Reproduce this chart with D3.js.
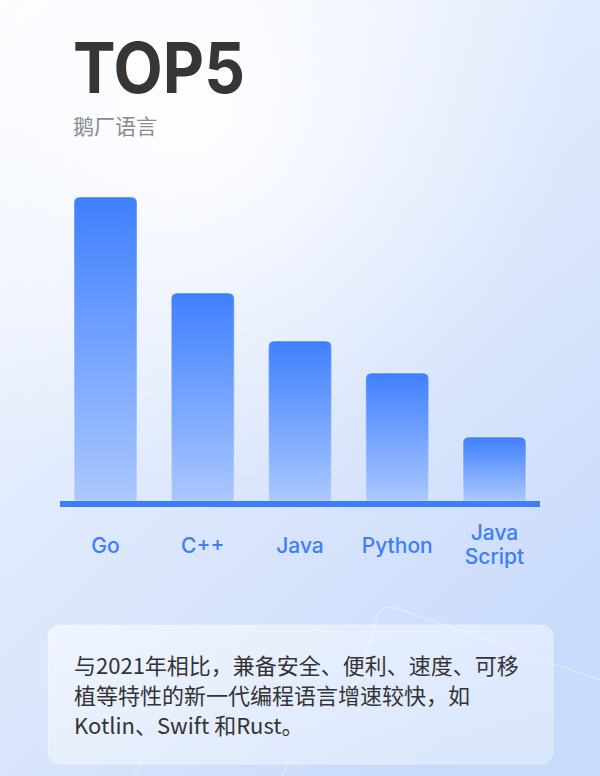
<!DOCTYPE html>
<html>
<head>
<meta charset="utf-8">
<script src="https://cdn.jsdelivr.net/npm/d3@7"></script>
<style>
  html, body { margin: 0; padding: 0; background: #eef3fd; }
  svg { display: block; }
</style>
</head>
<body>
<svg id="chart" width="600" height="776"></svg>
<script>
// Data (relative growth score, no units shown)
const languages = ['Go', 'C++', 'Java', 'Python', 'JavaScript']
const labelLines = [['Go'], ['C++'], ['Java'], ['Python'], ['Java', 'Script']]
const growth = [95, 65, 50, 40, 20]
const title = 'TOP5'
const subtitle = '鹅厂语言'
const noteLines = [
  '与2021年相比，兼备安全、便利、速度、可移',
  '植等特性的新一代编程语言增速较快，如',
  'Kotlin、Swift 和Rust。'
]

const svg = d3.select('#chart')
const width = 600
const height = 776
const plot = {left: 60, right: 540, top: 181, bottom: 501}

const data = languages.map((name, i) => ({name, lines: labelLines[i], value: growth[i]}))

const x = d3.scaleBand()
  .domain(languages)
  .range([plot.left, plot.right])
  .paddingInner(0.352)
  .paddingOuter(0.144)

const y = d3.scaleLinear()
  .domain([0, 100])
  .range([plot.bottom, plot.top])

drawBackground()
drawTitle()
drawBars()
drawAxis()
drawNote()

function drawBackground() {
  const defs = svg.append('defs')

  const bg = defs.append('linearGradient')
    .attr('id', 'bg').attr('x1', 0).attr('y1', 0).attr('x2', 0.7).attr('y2', 1)
  bg.append('stop').attr('offset', 0).attr('stop-color', '#fafcff')
  bg.append('stop').attr('offset', 0.45).attr('stop-color', '#e2ebfd')
  bg.append('stop').attr('offset', 1).attr('stop-color', '#c9dbfb')

  const glow = defs.append('radialGradient')
    .attr('id', 'glow').attr('gradientUnits', 'userSpaceOnUse')
    .attr('cx', 190).attr('cy', 110).attr('r', 380)
  glow.append('stop').attr('offset', 0).attr('stop-color', '#ffffff').attr('stop-opacity', 0.95)
  glow.append('stop').attr('offset', 0.5).attr('stop-color', '#ffffff').attr('stop-opacity', 0.4)
  glow.append('stop').attr('offset', 1).attr('stop-color', '#ffffff').attr('stop-opacity', 0)

  const barFill = defs.append('linearGradient')
    .attr('id', 'barFill').attr('x1', 0).attr('y1', 0).attr('x2', 0).attr('y2', 1)
  barFill.append('stop').attr('offset', 0).attr('stop-color', '#3f7fff')
  barFill.append('stop').attr('offset', 1).attr('stop-color', '#abc8ff')

  svg.append('rect').attr('width', width).attr('height', height).attr('fill', 'url(#bg)')
  svg.append('rect').attr('width', width).attr('height', height).attr('fill', 'url(#glow)')

  // faint decorative strokes behind the note box
  svg.append('path')
    .attr('d', 'M350,700 L377,618 Q382,604 396,608 L600,680')
    .attr('fill', 'none').attr('stroke', '#ffffff').attr('stroke-opacity', 0.35).attr('stroke-width', 1.5)
  svg.append('path')
    .attr('d', 'M134,776 L142,760 M282,776 L290,760')
    .attr('fill', 'none').attr('stroke', '#ffffff').attr('stroke-opacity', 0.35).attr('stroke-width', 1.5)
}

function drawTitle() {
  svg.append('text')
    .attr('x', 73).attr('y', 93)
    .attr('textLength', 172).attr('lengthAdjust', 'spacingAndGlyphs')
    .style('font-family', 'Inter, "Noto Sans", sans-serif')
    .style('font-weight', 700).style('font-size', '70px')
    .attr('fill', '#393533')
    .text(title)

  svg.append('text')
    .attr('x', 73).attr('y', 134)
    .style('font-family', '"Noto Sans CJK SC", sans-serif')
    .style('font-size', '21px')
    .attr('fill', '#8a8a8c')
    .text(subtitle)
}

// bar with rounded top corners only
function barPath(d) {
  const x0 = x(d.name), w = x.bandwidth()
  const y0 = y(d.value), y1 = y(0)
  const r = 6
  return `M${x0},${y1} L${x0},${y0 + r} Q${x0},${y0} ${x0 + r},${y0} ` +
    `L${x0 + w - r},${y0} Q${x0 + w},${y0} ${x0 + w},${y0 + r} L${x0 + w},${y1} Z`
}

function drawBars() {
  const bars = svg.append('g').attr('class', 'bars')
  bars.selectAll('.bar')
    .data(data)
    .enter()
    .append('path')
      .attr('class', 'bar')
      .attr('d', barPath)
      .attr('fill', 'url(#barFill)')
      .attr('stroke', '#ffffff')
      .attr('stroke-opacity', 0.3)
      .attr('stroke-width', 1.5)
}

function drawAxis() {
  svg.append('rect')
    .attr('x', plot.left).attr('y', y(0))
    .attr('width', plot.right - plot.left).attr('height', 6)
    .attr('fill', '#3d7ef8')

  const labels = svg.append('g').attr('class', 'labels')
  labels.selectAll('text')
    .data(data)
    .enter()
    .append('text')
      .attr('x', d => x(d.name) + x.bandwidth() / 2)
      .attr('y', d => d.lines.length > 1 ? 540 : 553)
      .attr('text-anchor', 'middle')
      .style('font-family', 'Inter, "Noto Sans", sans-serif')
      .style('font-weight', 500)
      .style('font-size', '21px')
      .attr('fill', '#3f7ef6')
      .selectAll('tspan')
      .data(d => d.lines.map(line => ({line, cx: x(d.name) + x.bandwidth() / 2})))
      .enter()
      .append('tspan')
        .attr('x', t => t.cx)
        .attr('dy', (t, i) => i === 0 ? 0 : 24)
        .text(t => t.line)
}

function drawNote() {
  const box = svg.append('g').attr('class', 'note')
  const defs = svg.select('defs')
  const boxFill = defs.append('linearGradient')
    .attr('id', 'boxFill').attr('x1', 0).attr('y1', 0).attr('x2', 1).attr('y2', 1)
  boxFill.append('stop').attr('offset', 0).attr('stop-color', '#ffffff').attr('stop-opacity', 0.55)
  boxFill.append('stop').attr('offset', 1).attr('stop-color', '#ffffff').attr('stop-opacity', 0.3)

  box.append('rect')
    .attr('x', 48).attr('y', 625)
    .attr('width', 505).attr('height', 139)
    .attr('rx', 12)
    .attr('fill', 'url(#boxFill)')
    .attr('stroke', '#ffffff').attr('stroke-opacity', 0.4)

  box.selectAll('text')
    .data(noteLines)
    .enter()
    .append('text')
      .attr('x', 74)
      .attr('y', (d, i) => 674 + i * 30)
      .style('font-family', '"Noto Sans CJK SC", sans-serif')
      .style('font-size', '22px')
      .attr('fill', '#333436')
      .text(d => d)
}
</script>
</body>
</html>
